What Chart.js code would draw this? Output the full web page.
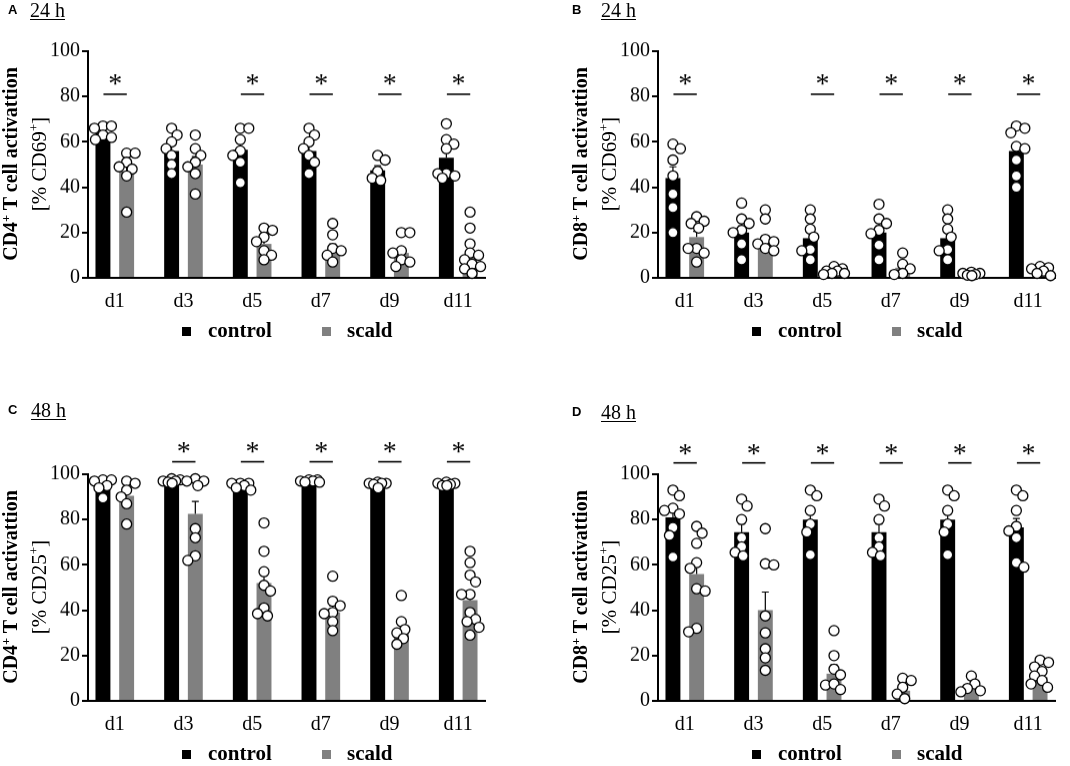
<!DOCTYPE html>
<html><head><meta charset="utf-8">
<script src="https://cdn.jsdelivr.net/npm/chart.js@4/dist/chart.umd.min.js"></script>
<style>
html,body{margin:0;padding:0;background:#fff;}
body{width:1070px;height:766px;position:relative;overflow:hidden;font-family:"Liberation Serif","Times New Roman",serif;color:#000;}
canvas{position:absolute;}
.abs{position:absolute;white-space:nowrap;}
.letter{font-family:"Liberation Sans",Arial,sans-serif;font-weight:bold;font-size:13px;line-height:13px;}
.hours{font-size:20px;line-height:20px;text-decoration:underline;text-decoration-thickness:1px;text-underline-offset:2px;}
.ytitle{width:280px;text-align:center;transform:rotate(-90deg);transform-origin:50% 50%;}
.ytitle div{height:29px;line-height:29px;}
.ytitle .t1{font-weight:bold;font-size:20px;}
.ytitle .t2{font-size:21px;}
sup{font-size:0.62em;line-height:0;vertical-align:0.6em;}
.lg-box{position:absolute;width:9px;height:9px;}
.lg-txt{position:absolute;font-weight:bold;font-size:21px;line-height:24px;white-space:nowrap;}
</style></head><body>
<script>
// ---------- data ----------
const days = ['d1', 'd3', 'd5', 'd7', 'd9', 'd11'];
const yTicks = [0, 20, 40, 60, 80, 100];
const seriesNames = ['control', 'scald'];

// A: CD4+ 24 h, % CD69+
const aControlMean = [64, 56, 56.5, 56, 47.5, 53];
const aControlSem = [1.5, 2.5, 3.5, 3, 2, 3.5];
const aScaldMean = [47, 50, 15, 12.5, 11, 9];
const aScaldSem = [3, 3.5, 2, 2.5, 2, 2.5];
const aControlPts = [[67, 67, 66, 63, 62, 61], [66, 63, 60, 57, 54, 50, 46], [66, 66, 61, 56, 54, 51, 42], [66, 63, 60, 57, 54, 51, 46], [54, 52, 47, 44, 43], [68, 61, 59, 57, 46, 46, 45, 44]];
const aScaldPts = [[55, 55, 51, 49, 48, 45, 29], [63, 57, 54, 51, 49, 46, 37], [22, 21, 18, 16, 12, 10, 8], [24, 19, 13, 12, 10, 7], [20, 20, 12, 11, 8, 7, 5], [29, 22, 15, 11, 10, 8, 6, 5, 4, 2]];
const aSig = [true, false, true, true, true, true];

// B: CD8+ 24 h, % CD69+
const bControlMean = [44, 20, 17.5, 20, 17.5, 56];
const bControlSem = [5, 3, 2.5, 3, 2.5, 3.5];
const bScaldMean = [18, 16, 3, 4.5, 2, 3];
const bScaldSem = [2.5, 2.5, 0.5, 1.5, 0.3, 0.6];
const bControlPts = [[59, 57, 52, 45, 37, 31, 20], [33, 26, 24, 21, 20, 15, 8], [30, 26, 21.5, 18, 12.5, 12, 8], [32.5, 26, 24, 21, 19.5, 14.5, 8], [30, 26, 21.5, 18, 12.5, 12, 8], [67, 66, 64, 58, 57, 52, 45, 40]];
const bScaldPts = [[27, 25, 24, 22, 13, 13, 11, 7], [30, 26, 17, 16, 15, 13, 12], [5, 4, 3, 3, 2, 2, 1.5], [11, 6, 4, 2, 1.5], [2.5, 2, 2, 1.5, 1.2, 1], [5, 4.5, 4, 3, 2, 1]];
const bSig = [true, false, true, true, true, true];

// C: CD4+ 48 h, % CD25+
const cControlMean = [95, 96.5, 95.5, 97, 95.5, 95.5];
const cControlSem = [1.2, 0.5, 0.5, 0.3, 0.5, 0.3];
const cScaldMean = [90.5, 82.5, 52, 39, 31, 44.5];
const cScaldSem = [2.5, 5.5, 5, 3, 3, 3.5];
const cControlPts = [[97.5, 97.5, 97, 95, 94, 89.5], [98, 97.5, 97, 97, 96.5, 96], [96, 96, 96, 95, 94, 93], [97.5, 97.5, 97, 97, 96.5, 96.5], [96.5, 96, 96, 96, 95.5, 94], [96.5, 96, 96, 95.5, 95, 95]];
const cScaldPts = [[97, 96, 93, 90, 87, 78], [98, 97, 97, 95, 76, 72, 64, 62], [78.5, 66, 57, 51, 48.5, 41, 38.5, 37.5], [55, 44, 42, 39, 38.5, 35, 31], [46.5, 35, 31.5, 30, 27.5, 25], [66, 61, 55.5, 52.5, 47, 47, 39, 36, 35, 32.5, 29]];
const cSig = [false, true, true, true, true, true];

// D: CD8+ 48 h, % CD25+
const dControlMean = [81, 74.5, 80, 74.5, 80, 76.5];
const dControlSem = [4, 3.5, 2.5, 3.5, 2.5, 4];
const dScaldMean = [56, 40, 12, 4.5, 6, 10.5];
const dScaldSem = [6.5, 8, 4, 1.5, 1.2, 1.8];
const dControlPts = [[93, 90.5, 85, 84, 82.5, 76.5, 73, 63.5], [89, 86, 80, 72, 68, 65.5, 64], [93, 90.5, 84, 78, 74.5, 64.5], [89, 86, 80, 72, 68, 65.5, 64], [93, 90.5, 84, 78, 74.5, 64.5], [93, 90.5, 84, 77, 75, 72, 61, 59]];
const dScaldPts = [[77, 74, 69.5, 61, 58.5, 49.5, 48.5, 32, 30.5], [76, 60.5, 60, 37.5, 30, 23, 19, 13.5], [31, 20, 14, 11.5, 7, 7.5, 5], [10, 9, 6, 3, 1], [11, 7.5, 5.5, 4.5, 4], [18, 17, 15, 13, 11, 9, 7.5, 6]];
const dSig = [true, true, true, true, true, true];

// ---------- layout / style ----------
const COLORS = ['#000000', '#808080'];
const SERIF = '"Liberation Serif", "Times New Roman", serif';
const panels = [
  {letter: 'A', hours: '24 h', cell: 'CD4', marker: 'CD69', left: 0, top: 0, areaTop: 51, lineY: 81, starY: 87.5,
   letterPos: [8, 3], hoursPos: [30, 0], titleX: 24.5,
   cm: aControlMean, cs: aControlSem, sm: aScaldMean, ss: aScaldSem, cp: aControlPts, sp: aScaldPts, sig: aSig},
  {letter: 'B', hours: '24 h', cell: 'CD8', marker: 'CD69', left: 570, top: 0, areaTop: 51, lineY: 81, starY: 87.5,
   letterPos: [572, 3], hoursPos: [601, 0], titleX: 594.5,
   cm: bControlMean, cs: bControlSem, sm: bScaldMean, ss: bScaldSem, cp: bControlPts, sp: bScaldPts, sig: bSig},
  {letter: 'C', hours: '48 h', cell: 'CD4', marker: 'CD25', left: 0, top: 400, areaTop: 74, lineY: 105.5, starY: 112,
   letterPos: [8, 403], hoursPos: [31, 400], titleX: 24.5,
   cm: cControlMean, cs: cControlSem, sm: cScaldMean, ss: cScaldSem, cp: cControlPts, sp: cScaldPts, sig: cSig},
  {letter: 'D', hours: '48 h', cell: 'CD8', marker: 'CD25', left: 570, top: 400, areaTop: 74, lineY: 105, starY: 111,
   letterPos: [572, 405], hoursPos: [601, 402], titleX: 594.5,
   cm: dControlMean, cs: dControlSem, sm: dScaldMean, ss: dScaldSem, cp: dControlPts, sp: dScaldPts, sig: dSig}
];
const CANVAS_W = 500, AREA_H = 226.5, XAXIS_H = 43, AXIS_LEFT = 88;

const annotPlugin = {
  id: 'annot',
  afterDatasetDraw(chart, args) {
    const ds = chart.data.datasets[args.index];
    if (!ds.sem) return;
    const ctx = chart.ctx, y = chart.scales.y;
    ctx.save();
    ctx.strokeStyle = '#000';
    ctx.lineWidth = 1.2;
    args.meta.data.forEach((bar, i) => {
      const top = y.getPixelForValue(ds.data[i].y + ds.sem[i]);
      ctx.beginPath();
      ctx.moveTo(bar.x, bar.y);
      ctx.lineTo(bar.x, top);
      ctx.moveTo(bar.x - 3.5, top);
      ctx.lineTo(bar.x + 3.5, top);
      ctx.stroke();
    });
    ctx.restore();
  },
  afterDraw(chart, args, opts) {
    if (!opts.sig) return;
    const ctx = chart.ctx, x = chart.scales.x, y = chart.scales.y;
    ctx.save();
    ctx.strokeStyle = '#000';
    ctx.fillStyle = '#000';
    ctx.lineWidth = 1.6;
    ctx.font = '28px ' + SERIF;
    ctx.textAlign = 'center';
    ctx.textBaseline = 'alphabetic';
    opts.sig.forEach((s, i) => {
      if (!s) return;
      const ly = y.getPixelForValue(opts.lineY);
      ctx.beginPath();
      ctx.moveTo(x.getPixelForValue(i - 0.165), ly);
      ctx.lineTo(x.getPixelForValue(i + 0.175), ly);
      ctx.stroke();
      ctx.fillText('*', x.getPixelForValue(i + 0.005), y.getPixelForValue(opts.starY) + 13);
    });
    ctx.restore();
  }
};

// horizontal spreading of the raw points (overlap allowed, bounded width)
function swarm(pys, cx, d, maxOff) {
  const order = pys.map((_, i) => i).sort((a, b) => pys[a] - pys[b]);
  const placed = [], out = [];
  let flip = 1;
  for (const i of order) {
    let best = 0, bestScore = -1, done = false;
    for (let s = 0; s <= maxOff && !done; s += 0.5) {
      const cands = s === 0 ? [0] : [s * flip, -s * flip];
      for (const c of cands) {
        let md = Infinity;
        placed.forEach(p => { md = Math.min(md, Math.hypot(p.x - (cx + c), p.y - pys[i])); });
        if (md >= d) { best = c; done = true; break; }
        if (md > bestScore) { bestScore = md; best = c; }
      }
    }
    if (best !== 0) flip = -Math.sign(best);
    placed.push({x: cx + best, y: pys[i]});
    out[i] = cx + best;
  }
  return out;
}

function addText(cls, html, left, top) {
  const el = document.createElement('div');
  el.className = 'abs ' + cls;
  el.innerHTML = html;
  el.style.left = left + 'px';
  el.style.top = top + 'px';
  document.body.appendChild(el);
  return el;
}

panels.forEach(p => {
  const cv = document.createElement('canvas');
  const h = p.areaTop + AREA_H + XAXIS_H;
  cv.width = CANVAS_W; cv.height = h;
  cv.style.left = p.left + 'px'; cv.style.top = p.top + 'px';
  cv.style.width = CANVAS_W + 'px'; cv.style.height = h + 'px';
  document.body.appendChild(cv);

  const font = {family: SERIF, size: 20};
  const barDs = (name, mean, sem, color) => ({
    type: 'bar', label: name, order: 1,
    data: mean.map((v, i) => ({x: i, y: v})), sem: sem,
    backgroundColor: color, borderWidth: 0,
    categoryPercentage: 0.69, barPercentage: 0.63
  });
  const chart = new Chart(cv, {
    type: 'bar',
    data: {
      datasets: [
        barDs(seriesNames[0], p.cm, p.cs, COLORS[0]),
        barDs(seriesNames[1], p.sm, p.ss, COLORS[1]),
        {type: 'scatter', label: 'points', order: 0, data: [], showLine: false, clip: false,
         pointRadius: 5, pointHoverRadius: 5, pointBackgroundColor: '#fff', pointBorderColor: '#000', pointBorderWidth: 1.3}
      ]
    },
    options: {
      responsive: false, animation: false, devicePixelRatio: 1,
      layout: {padding: {left: 0, right: 15, top: p.areaTop, bottom: 0}},
      plugins: {legend: {display: false}, tooltip: {enabled: false},
                annot: {sig: p.sig, lineY: p.lineY, starY: p.starY}},
      scales: {
        x: {type: 'linear', offset: false, bounds: 'data', min: -0.39, max: 5.39,
            afterBuildTicks: s => { s.ticks = days.map((_, i) => ({value: i})); },
            afterFit: s => { s.height = XAXIS_H; },
            grid: {display: false, drawTicks: false},
            border: {display: true, color: '#000', width: 2},
            ticks: {callback: (v, i) => days[i], font, color: '#000', padding: 12, maxRotation: 0, autoSkip: false}},
        y: {type: 'linear', min: 0, max: 100,
            afterBuildTicks: s => { s.ticks = yTicks.map(v => ({value: v})); },
            afterFit: s => { s.width = AXIS_LEFT; },
            ticks: {font, color: '#000', padding: 2},
            grid: {drawOnChartArea: false, drawTicks: true, tickLength: 6, color: '#000', lineWidth: 2},
            border: {display: true, color: '#000', width: 2}}
      }
    },
    plugins: [annotPlugin]
  });

  // place the individual data points around each bar centre
  const ys = chart.scales.y, xs = chart.scales.x;
  const pts = [];
  [[p.cp, 0], [p.sp, 1]].forEach(([groups, di]) => {
    const meta = chart.getDatasetMeta(di);
    groups.forEach((vals, i) => {
      const cx = meta.data[i].x;
      const pxs = swarm(vals.map(v => ys.getPixelForValue(v)), cx, 8.5, 10.5);
      vals.forEach((v, k) => pts.push({x: xs.getValueForPixel(pxs[k]), y: v}));
    });
  });
  chart.data.datasets[2].data = pts;
  chart.update('none');

  // panel letter, time title, axis title, legend (HTML text)
  addText('letter', p.letter, p.letterPos[0], p.letterPos[1]);
  addText('hours', p.hours, p.hoursPos[0], p.hoursPos[1]);
  const area = chart.chartArea;
  const cy = p.top + (area.top + area.bottom) / 2;
  addText('ytitle', '<div class="t1">' + p.cell + '<sup>+</sup> T cell activattion</div>' +
          '<div class="t2">[% ' + p.marker + '<sup>+</sup>]</div>', p.titleX - 140, cy - 29);
  const lgY = p.top + area.bottom + 54;
  const ax = p.left + area.left;
  const boxX = [ax + 94, ax + 234];
  const txtX = [ax + 120, ax + 259];
  [0, 1].forEach(k => {
    const ds = chart.data.datasets[k];
    const b = document.createElement('div');
    b.className = 'lg-box';
    b.style.left = boxX[k] + 'px'; b.style.top = (lgY - 4.5) + 'px';
    b.style.background = ds.backgroundColor;
    document.body.appendChild(b);
    const t = document.createElement('div');
    t.className = 'lg-txt';
    t.textContent = ds.label;
    t.style.left = txtX[k] + 'px'; t.style.top = (lgY - 13) + 'px';
    document.body.appendChild(t);
  });
});
</script>
</body></html>
